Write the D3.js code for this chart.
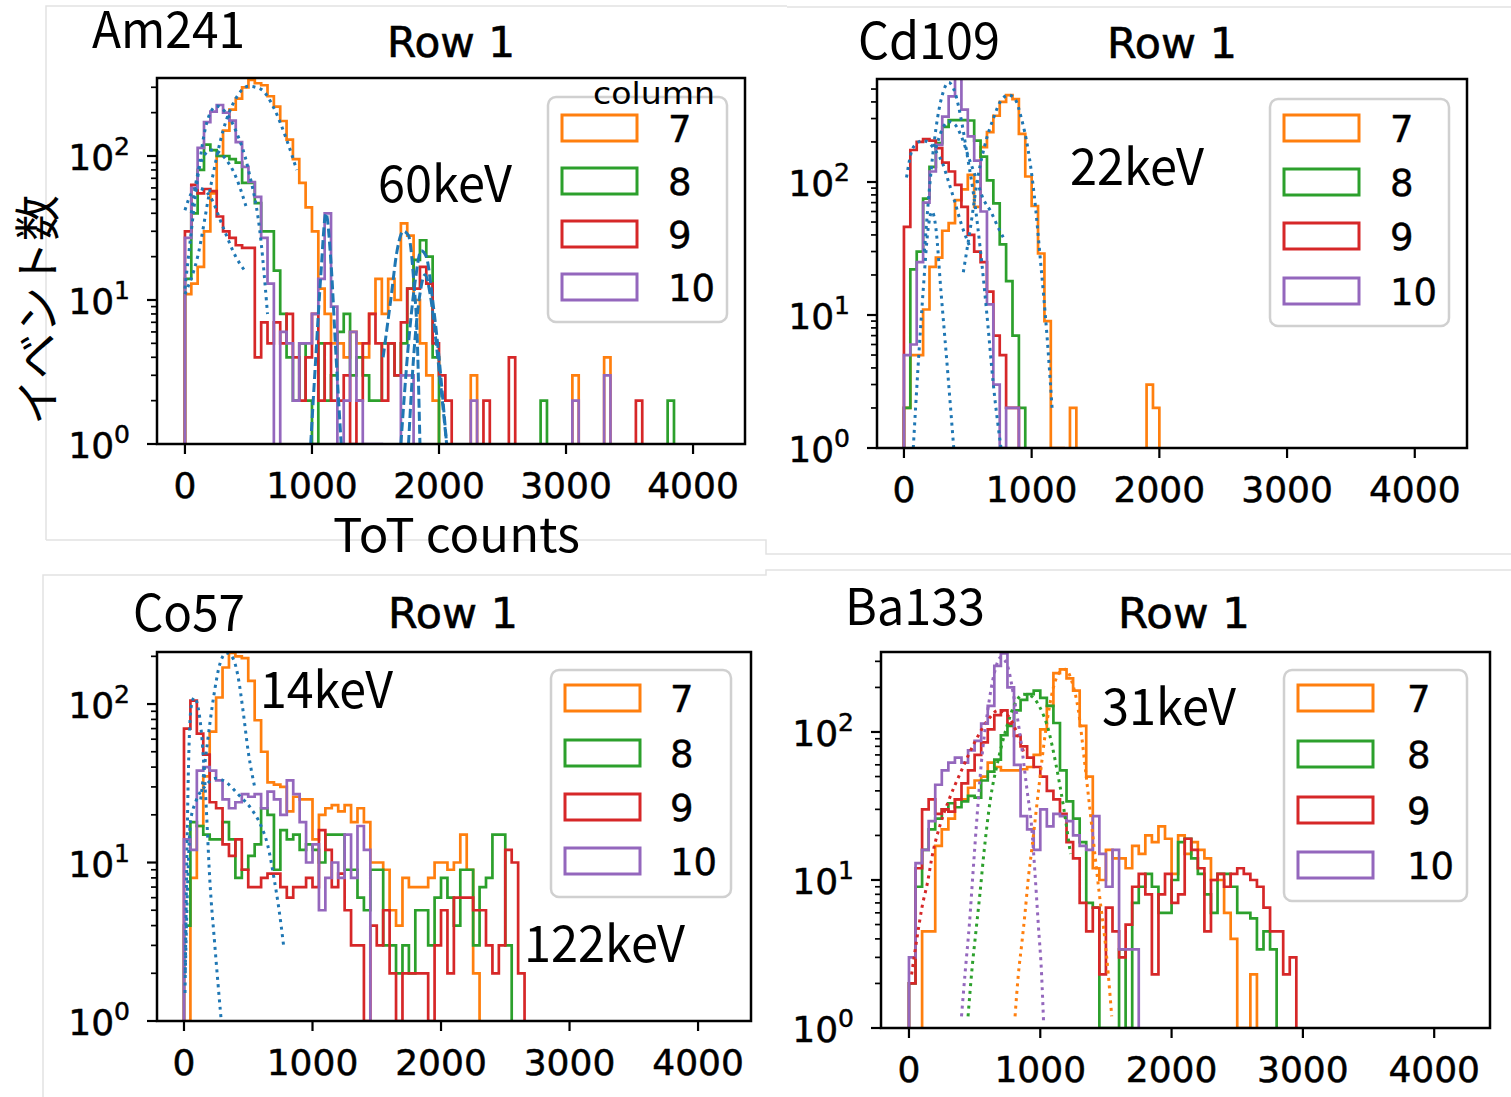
<!DOCTYPE html>
<html><head><meta charset="utf-8">
<script src="https://cdn.jsdelivr.net/npm/d3@7"></script>
<style>body{margin:0;background:#fff}</style>
</head><body>
<svg id="chart" width="1511" height="1097"></svg>
<script>
// ---------------- data ----------------
const BIN = 50;                        // ToT bin width
const columnLabels = ["7", "8", "9", "10"];
const seriesColors = ["#ff7f0e", "#2ca02c", "#d62728", "#9467bd"];
const xTickValues = [0, 1000, 2000, 3000, 4000];
const sourceNames = ["Am241", "Cd109", "Co57", "Ba133"];
const rowTitle = "Row 1";
const xAxisTitle = "ToT counts";
const yAxisTitle = "イベント数";
const legendTitle = "column";
const peakLabels = [["60keV"], ["22keV"], ["14keV", "122keV"], ["31keV"]];

// Am241 counts per 50-ToT bin (column 7, 8, 9, 10)
const am241_c7 = [11,13,17,30,55,100,150,210,250,300,337,320,310,260,220,175,130,95,65,44,30,12,8,5,5,4,6,5,4,8,14,8,14,10,34,28,10,5,3,2,0,0,0,0,0,3,0,0,0,0,0,0,0,0,0,0,0,0,0,0,0,3,0,0,0,0,4];
const am241_c8 = [14,40,80,120,110,100,100,95,90,65,65,47,30,30,16,8,4,2,5,2,1,5,2,3,6,8,3,4,3,2,2,5,5,3,5,12,19,26,20,4,0,0,0,0,0,0,0,0,0,0,0,0,0,0,0,0,2,0,0,0,0,0,0,0,0,0,0,0,0,0,0,0,0,0,0,0,2];
const am241_c9 = [30,63,55,59,57,38,30,27,24,23,23,4,7,5,7,5,8,4,2,4,8,2,5,2,2,3,1,2,5,8,5,2,5,3,7,12,12,17,13,5,3,2,0,0,0,0,0,2,0,0,0,4,0,0,0,0,0,0,0,0,0,0,0,0,0,0,0,0,0,0,0,2];
const am241_c10 = [27,60,114,172,203,226,200,176,125,84,66,52,27,13,0,6,5,2,5,5,8,14,40,9,1,2,6,2,1,1,1,0,0,0,3,3,0,0,0,0,0,0,0,0,0,2,0,0,0,0,0,0,0,0,0,0,0,0,0,0,0,2,0,0,0,0,3];
// Am241 fitted curves [ToT, counts]
const am241_fitDotted = [
  [[0,11],[100,20],[200,60],[300,150],[400,250],[500,305],[600,290],[700,215],[800,130],[880,80]],
  [[0,12],[50,30],[100,70],[150,140],[200,200],[250,222],[300,210],[400,150],[500,80],[600,25],[650,8]],
  [[50,40],[100,75],[150,100],[200,110],[250,108],[300,100],[400,72],[480,45]],
  [[0,42],[50,55],[100,60],[150,58],[200,52],[300,32],[400,20],[470,16]]
];
const am241_fitDashed = [
  [[990,1],[1030,4],[1070,15],[1110,40],[1150,18],[1190,4],[1230,1]],
  [[1560,4],[1620,10],[1670,22],[1720,30],[1760,28],[1800,14],[1830,5],[1850,1]],
  [[1700,1],[1760,5],[1810,13],[1860,22],[1900,20],[1950,10],[2000,4],[2060,1]],
  [[1760,1],[1800,4],[1850,11],[1890,15],[1930,11],[1990,4],[2060,1]]
];

// Cd109
const cd109_c7 = [2,5,5,11,23,27,43,49,73,88,113,65,183,237,315,400,450,420,230,110,66,29,9,1,1,0,2,0,0,0,0,0,0,0,0,0,0,0,3,2];
const cd109_c8 = [2,22,30,75,130,196,260,292,292,292,290,205,155,103,69,34,18,7,2];
const cd109_c9 = [46,174,200,210,205,180,140,120,95,65,40,30,25,15,7,5,2,2];
const cd109_c10 = [5,6,25,70,120,190,310,440,600,350,220,145,60,12,3,1,2,2];
const cd109_fitDotted = [
  [[20,108],[60,170],[100,195],[150,205],[200,195],[250,170],[300,140],[350,100],[400,70],[450,48],[520,32]],
  [[73,1],[110,4],[150,15],[190,45],[220,60],[250,45],[290,15],[340,4],[390,1]],
  [[160,30],[200,90],[250,250],[300,450],[350,560],[400,470],[450,290],[500,150],[550,75],[600,30],[650,10],[700,3],[760,1]],
  [[250,180],[300,250],[350,285],[400,270],[450,220],[500,160],[560,110],[620,75],[680,60],[740,45],[780,38]],
  [[465,21],[520,45],[580,110],[640,200],[700,300],[760,410],[820,450],[870,420],[920,300],[970,180],[1020,80],[1070,25],[1120,7],[1160,2]]
];

// Co57
const co57_c7 = [1,8,17,35,67,110,170,210,200,195,140,79,50,32,31,30,21,26,25,25,14,20,22,23,21,23,18,22,18,10,10,9,5,4,8,7,7,7,8,10,10,9,10,15,9,2];
const co57_c8 = [4,18,17,15,14,14,18,14,8,9,11,13,22,20,9,16,14,15,12,13,12,10,15,15,15,9,9,6,5,9,9,3,3,2,3,2,5,5,3,6,8,6,4,9,9,3,7,8,15,15,3];
const co57_c9 = [70,105,65,48,24,22,13,11,14,9,7,7,8,8.5,8.5,7,6,7,7,8,7,16,12,7,8.5,5,3,3,1,4,3,5,2,1,2,2,2,2,1,3,5,2,6,6,6,5,5,3,2,3,12,10,2];
const co57_c10 = [14,12,38,40,38,33,25,22,24,27,26,27,22,28,25,20,33,27,18,10,13,5,8,10,8,15,8,17,12];
const co57_fitDotted = [
  [[8,1.5],[20,8],[35,40],[55,95],[80,110],[110,95],[140,60],[170,25],[200,8],[240,3],[290,1]],
  [[130,25],[180,55],[230,110],[280,180],[330,210],[380,195],[420,150],[460,90],[500,50],[550,30]],
  [[10,2],[30,8],[50,18],[90,24],[160,30],[250,34],[330,32],[420,27],[520,22],[600,17],[650,13],[700,8],[740,5],[775,3]]
];

// Ba133
const ba133_c7 = [0,0,4.5,4.5,17,22,26,35,35,42,47,50,62,58,55,55,55,56,58,70,104,150,250,265,230,190,110,50,12,10,16,14,14,12,17,15,20,18,23,19,11,20,15,18,16,14,10,10,6,4,1,1,2.3];
const ba133_c8 = [2,9,16,22,26,30,33,31,34,37,36,47,54,65,95,110,140,165,180,190,170,150,115,55,34,26,18,7,6.5,1,1,1,3.4,1,7,9,11,9,6,6,10,18,19,14,11,8,6,11,11,9,6,6,5.5,3.4,4.5,3.4];
const ba133_c9 = [2,12,30,35,28,30,29,35,45,55,70,85,104,130,140,114,94,80,67,58,50,40,35,28,18,14,7,4.5,6.5,2.3,6.5,4.5,3,5,9,11,8,2.3,8,11,7,8,19,16,12,4.5,10,11,9,11,12,11,10,9,6.5,4.5,4.5,2.3,3];
const ba133_c10 = [3,13,16,25,44,55,62,67,62,75,87,114,150,280,340,200,60,27,22,16,30,23,28,27,25,20,17,16,27,15,9,16,3.4,3.4,3.4];
const ba133_fit7 = [[808,1.2],[833,2.3],[859,3.7],[884,6],[910,10.5],[935,16],[960,25],[986,40],[1040,100],[1100,200],[1150,255],[1190,265],[1240,220],[1290,140],[1340,60],[1400,20],[1450,8],[1493,3.9],[1518,2.3],[1544,1.2]];
const ba133_fit8 = [[450,1.2],[480,2.5],[510,4.5],[540,8],[570,15],[620,35],[680,65],[740,105],[800,150],[870,180],[930,175],[1000,145],[1060,105],[1120,60],[1180,30],[1230,15]];
const ba133_fit9 = [[20,2.3],[60,4],[100,6.6],[140,9.5],[180,15],[240,24],[300,34],[400,55],[500,85],[600,120],[680,140],[750,130],[820,100],[880,70]];
const ba133_fit10 = [[400,1.2],[430,2.5],[460,5],[490,12],[520,28],[550,60],[600,140],[650,250],[700,320],[750,280],[800,170],[850,90],[900,40],[934,23],[960,11],[985,5],[1010,2.3],[1025,1.1]];

// ---------------- layout ----------------
const panels = [
  { name: sourceNames[0], series: [am241_c7, am241_c8, am241_c9, am241_c10],
    dotted: am241_fitDotted.map(d => ({pts: d, color: "#1f77b4"})),
    dashed: am241_fitDashed.map(d => ({pts: d, color: "#1f77b4"})),
    box: [157, 78, 745, 444], xdom: [-220, 4409], ytop: 348,
    title: {x: 92, y: 48, w: 153}, row: {x: 387, y: 57, w: 128},
    peaks: [{x: 378, y: 202, w: 134}],
    legend: {x: 548, y: 97, w: 179, h: 225, px: 562, py: [115,168,221,274], lx: 668},
    showTitle: true, showXTitle: true, showYTitle: true },
  { name: sourceNames[1], series: [cd109_c7, cd109_c8, cd109_c9, cd109_c10],
    dotted: cd109_fitDotted.map(d => ({pts: d, color: "#1f77b4"})), dashed: [],
    box: [877, 79, 1467, 448], xdom: [-211, 4409], ytop: 595,
    title: {x: 858, y: 59, w: 142}, row: {x: 1107, y: 58, w: 130},
    peaks: [{x: 1070, y: 185, w: 134}],
    legend: {x: 1270, y: 99, w: 179, h: 227, px: 1284, py: [115,169,223,278], lx: 1390} },
  { name: sourceNames[2], series: [co57_c7, co57_c8, co57_c9, co57_c10],
    dotted: co57_fitDotted.map(d => ({pts: d, color: "#1f77b4"})), dashed: [],
    box: [157, 652, 751, 1021], xdom: [-210, 4412], ytop: 213,
    title: {x: 133, y: 631, w: 112}, row: {x: 388, y: 628, w: 130},
    peaks: [{x: 260, y: 708, w: 133}, {x: 524, y: 962, w: 161}],
    legend: {x: 551, y: 670, w: 180, h: 227, px: 565, py: [685,740,794,848], lx: 670} },
  { name: sourceNames[3], series: [ba133_c7, ba133_c8, ba133_c9, ba133_c10],
    dotted: [ba133_fit7, ba133_fit8, ba133_fit9, ba133_fit10].map((d, i) => ({pts: d, color: seriesColors[i]})), dashed: [],
    box: [881, 652, 1490, 1028], xdom: [-213, 4425], ytop: 347,
    title: {x: 845, y: 625, w: 140}, row: {x: 1118, y: 628, w: 132},
    peaks: [{x: 1102, y: 725, w: 134}],
    legend: {x: 1284, y: 670, w: 183, h: 231, px: 1298, py: [685,741,797,852], lx: 1407} }
];

const JP = "'Noto Sans CJK JP', 'Noto Sans', sans-serif";
const DV = "'DejaVu Sans', sans-serif";

const svg = d3.select("#chart");
svg.append("rect").attr("width", 1511).attr("height", 1097).attr("fill", "#fff");

// faint screenshot frames
const frame = svg.append("g").attr("fill", "none").attr("stroke", "#e2e2e2").attr("stroke-width", 1.5);
frame.append("path").attr("d", "M46,540V6H787");
frame.append("path").attr("d", "M46,540H766V554H1511");
frame.append("path").attr("d", "M787,7H1511");
frame.append("path").attr("d", "M43,1097V575H766V570H1511");

panels.forEach((p, pi) => {
  const [L, T, R, B] = p.box;
  const x = d3.scaleLinear().domain(p.xdom).range([L, R]);
  const y = d3.scaleLog().domain([1, p.ytop]).range([B, T]);
  const g = svg.append("g");
  const clipId = "clip" + pi;
  g.append("clipPath").attr("id", clipId).append("rect")
    .attr("x", L).attr("y", T).attr("width", R - L).attr("height", B - T);
  const plot = g.append("g").attr("clip-path", `url(#${clipId})`);

  // step histograms
  const line = d3.line().x(d => x(d[0])).y(d => y(Math.max(d[1], 0.5)));
  p.series.forEach((counts, si) => {
    const pts = [[0, 0]];
    counts.forEach((c, i) => { pts.push([i * BIN, c]); pts.push([(i + 1) * BIN, c]); });
    pts.push([counts.length * BIN, 0]);
    plot.append("path").attr("d", line(pts)).attr("fill", "none")
      .attr("stroke", seriesColors[si]).attr("stroke-width", 2.7)
      .attr("stroke-linejoin", "miter");
  });
  // fits
  const fitLine = d3.line().x(d => x(d[0])).y(d => y(d[1])).curve(d3.curveMonotoneX);
  p.dotted.forEach(f => {
    plot.append("path").attr("d", fitLine(f.pts)).attr("fill", "none")
      .attr("stroke", f.color).attr("stroke-width", 3).attr("stroke-dasharray", "3,4.5");
  });
  p.dashed.forEach(f => {
    plot.append("path").attr("d", fitLine(f.pts)).attr("fill", "none")
      .attr("stroke", f.color).attr("stroke-width", 3).attr("stroke-dasharray", "9,4");
  });

  // spines
  g.append("rect").attr("x", L).attr("y", T).attr("width", R - L).attr("height", B - T)
    .attr("fill", "none").attr("stroke", "#000").attr("stroke-width", 2.5);

  // x ticks
  xTickValues.forEach(v => {
    g.append("line").attr("x1", x(v)).attr("x2", x(v)).attr("y1", B).attr("y2", B + 10)
      .attr("stroke", "#000").attr("stroke-width", 2.2);
    g.append("text").attr("x", x(v)).attr("y", B + 54).attr("text-anchor", "middle")
      .attr("font-family", DV).attr("font-size", 36)
      .attr("stroke", "#000").attr("stroke-width", 0.5).text(v);
  });
  // y ticks (log)
  const yMax = p.ytop;
  for (let e = 0; e <= 3; e++) {
    for (let m = 1; m <= 9; m++) {
      const v = m * Math.pow(10, e);
      if (v > yMax) continue;
      const yy = y(v);
      g.append("line").attr("x1", L).attr("x2", L - (m === 1 ? 10 : 6)).attr("y1", yy).attr("y2", yy)
        .attr("stroke", "#000").attr("stroke-width", m === 1 ? 2.2 : 1.7);
      if (m === 1) {
        const t = g.append("text").attr("x", L - 27).attr("y", yy + 14).attr("text-anchor", "end")
          .attr("font-family", DV).attr("font-size", 36)
          .attr("stroke", "#000").attr("stroke-width", 0.5);
        t.append("tspan").text("10");
        t.append("tspan").attr("dy", -15).attr("font-size", 25).text(e);
      }
    }
  }

  // titles
  g.append("text").attr("x", p.title.x).attr("y", p.title.y).attr("font-family", JP)
    .attr("font-size", 50).attr("textLength", p.title.w).attr("lengthAdjust", "spacingAndGlyphs").text(p.name);
  g.append("text").attr("x", p.row.x).attr("y", p.row.y).attr("font-family", DV)
    .attr("font-size", 43).attr("stroke", "#000").attr("stroke-width", 0.6)
    .attr("textLength", p.row.w).attr("lengthAdjust", "spacingAndGlyphs").text(rowTitle);
  p.peaks.forEach((pk, k) => {
    g.append("text").attr("x", pk.x).attr("y", pk.y).attr("font-family", JP)
      .attr("font-size", 50).attr("textLength", pk.w).attr("lengthAdjust", "spacingAndGlyphs").text(peakLabels[pi][k]);
  });

  // legend
  const lg = p.legend;
  g.append("rect").attr("x", lg.x).attr("y", lg.y).attr("width", lg.w).attr("height", lg.h)
    .attr("rx", 8).attr("fill", "#fff").attr("fill-opacity", 0.85)
    .attr("stroke", "#d0d0d0").attr("stroke-width", 2.5);
  columnLabels.forEach((c, i) => {
    g.append("rect").attr("x", lg.px).attr("y", lg.py[i]).attr("width", 75).attr("height", 26)
      .attr("fill", "#fff").attr("stroke", seriesColors[i]).attr("stroke-width", 3);
    g.append("text").attr("x", lg.lx).attr("y", lg.py[i] + 27).attr("font-family", DV)
      .attr("font-size", 37).attr("stroke", "#000").attr("stroke-width", 0.4).text(c);
  });

  if (p.showTitle) {
    g.append("text").attr("x", 593).attr("y", 104).attr("font-family", DV).attr("font-size", 31)
      .attr("textLength", 122).attr("lengthAdjust", "spacingAndGlyphs").text(legendTitle);
  }
  if (p.showXTitle) {
    g.append("text").attr("x", 333).attr("y", 552).attr("font-family", JP).attr("font-size", 47)
      .attr("textLength", 247).attr("lengthAdjust", "spacingAndGlyphs").text(xAxisTitle);
  }
  if (p.showYTitle) {
    g.append("text").attr("transform", "translate(54,310) rotate(-90)").attr("text-anchor", "middle")
      .attr("font-family", JP).attr("font-size", 46).attr("textLength", 230)
      .attr("lengthAdjust", "spacingAndGlyphs").text(yAxisTitle);
  }
});
</script>
</body></html>
